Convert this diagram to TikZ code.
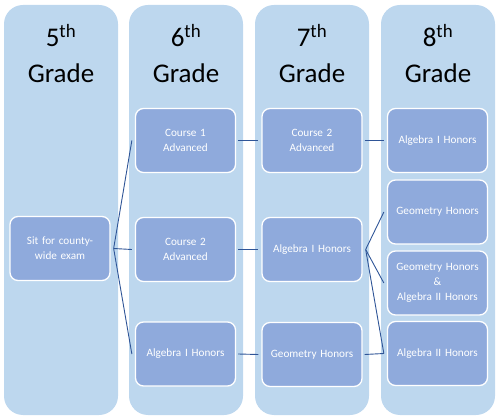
\documentclass[tikz,border=0pt]{standalone}
\usepackage{fontspec}
\setmainfont{Carlito}
\usepackage{xcolor}
\usetikzlibrary{calc,positioning}
\definecolor{colblue}{HTML}{BDD7EE}
\definecolor{boxblue}{HTML}{8FAADC}
\definecolor{linkblue}{HTML}{2F5597}

\begin{document}
\begin{tikzpicture}[x=1pt, y=-1pt,
	gradecol/.style={fill=colblue, rounded corners=19pt},
	gradehead/.style={anchor=base, font=\fontsize{27}{32}\selectfont},
	course/.style={draw=white, line width=1.3pt, fill=boxblue, rounded corners=8pt,
		minimum width=100pt, minimum height=64pt, text width=92pt, align=center,
		text=white, font=\fontsize{11.2}{15}\selectfont, inner sep=0pt},
	link/.style={draw=linkblue, line width=0.9pt}]
	\useasboundingbox (0, 0) rectangle (500, 419);
	% grade columns
	\foreach \x/\g in {4/5, 129/6, 255/7, 381/8} {
		\fill[gradecol] (\x, 5) rectangle ++(114, 410);
		\node[gradehead] (head\g) at (\x+57, 47) {\g\textsuperscript{th}};
		\node[gradehead] (grade\g) at (\x+57, 83) {Grade};
	}
	% courses
	\node[course] (sit) at (60, 248.5) {Sit for county-\\wide exam};
	\node[course] (sixc1) at (185.5, 140.5) {Course 1\\Advanced};
	\node[course] (sixc2) at (185.5, 249.5) {Course 2\\Advanced};
	\node[course] (sixalg) at (185.5, 354) {Algebra I Honors};
	\node[course] (sevc2) at (312, 140.5) {Course 2\\Advanced};
	\node[course] (sevalg) at (312, 249.5) {Algebra I Honors};
	\node[course] (sevgeo) at (312, 354.5) {Geometry Honors};
	\node[course] (eigalg) at (437.5, 140.5) {Algebra I Honors};
	\node[course] (eiggeo) at (437.5, 212) {Geometry Honors};
	\node[course] (eigboth) at (437.5, 283) {Geometry Honors\\\&\\Algebra II Honors};
	\node[course] (eigalgii) at (437.5, 353.5) {Algebra II Honors};
	% links
	\coordinate (sitfork) at ([xshift=3pt]sit.east);
	\coordinate (sevfork) at ([xshift=3pt]sevalg.east);
	\coordinate (algiiin) at ([xshift=-3pt]eigalgii.west);
	\foreach \t in {sixc1, sixc2, sixalg}
		\draw[link] (sitfork) -- ([xshift=-3pt]\t.west);
	\draw[link] ([xshift=2pt]sixc1.east) -- ([xshift=-3pt]sevc2.west);
	\draw[link] ([xshift=2pt]sixc2.east) -- ([xshift=-3pt]sevalg.west);
	\draw[link] ([xshift=2pt]sixalg.east) -- ([xshift=-3pt]sevgeo.west);
	\draw[link] ([xshift=2pt]sevc2.east) -- ([xshift=-3pt]eigalg.west);
	\draw[link] (sevfork) -- ([xshift=-3pt]eiggeo.west);
	\draw[link] (sevfork) -- ([xshift=-3pt]eigboth.west);
	\draw[link] (sevfork) -- (algiiin);
	\draw[link] ([xshift=2pt]sevgeo.east) -- (algiiin);
\end{tikzpicture}
\end{document}
